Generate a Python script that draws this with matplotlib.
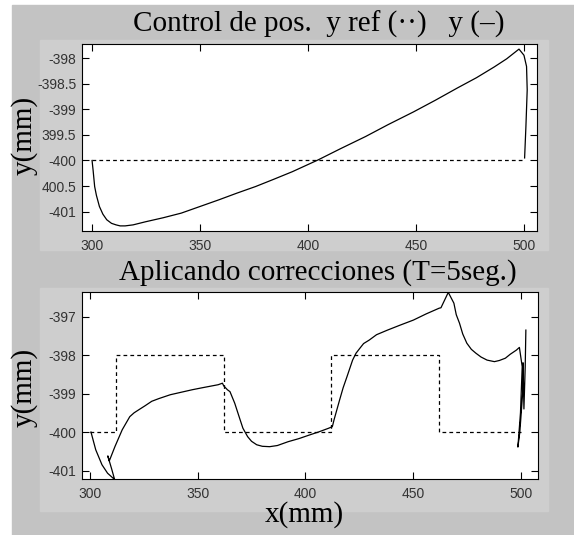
import matplotlib
matplotlib.use('Agg')
import matplotlib.pyplot as plt
from matplotlib.patches import Rectangle

# top plot: position control, reference y = -400
top_x = [300, 300.5, 301.2, 302.0, 303.4, 305.0, 306.8, 309.0, 311.1, 313.0, 315.3, 319.0,
         324.7, 333.0, 341.3, 350.0, 358.7, 367.0, 375.7, 384.0, 392.7, 404.6, 415.0,
         426.7, 437.0, 448.8, 459.0, 469.2, 478.0, 486.2, 492.0, 497.7, 500.0, 501.2,
         501.5, 500.9, 500.3]
top_y = [-400.0, -400.2, -400.51, -400.68, -400.90, -401.05, -401.16, -401.23, -401.26,
         -401.28, -401.28, -401.26, -401.20, -401.12, -401.03, -400.90, -400.77, -400.64,
         -400.51, -400.37, -400.22, -399.99, -399.77, -399.53, -399.30, -399.05, -398.82,
         -398.58, -398.38, -398.17, -398.01, -397.82, -397.94, -398.16, -398.62, -399.34,
         -399.95]
top_ref_x = [300, 500]
top_ref_y = [-400, -400]
top_yticks = [-398, -398.5, -399, -399.5, -400, -400.5, -401]
top_ylabels = ['-398', '-398.5', '-399', '399.5', '-400', '400.5', '-401']

# bottom plot: with corrections (T=5seg.)
bot_x = [300.5, 302.7, 305.6, 308.2, 310.8, 311.6, 310.1, 308.3, 309.0, 311.6, 315.0,
         318.5, 320.5, 322.7, 325.5, 328.7, 332.0, 337.3, 342.0, 347.5, 352.0, 359.5,
         361.5, 362.1, 363.8, 365.0, 367.2, 369.7, 371.0, 373.2, 375.0, 377.4, 380.0,
         383.4, 387.0, 392.0, 397.0, 402.2, 406.0, 410.8, 412.5, 413.3, 415.9, 417.5,
         419.3, 421.9, 423.5, 425.3, 427.0, 429.6, 433.0, 438.1, 444.0, 450.1, 456.0,
         462.1, 462.9, 466.3, 468.9, 470.0, 471.5, 473.0, 474.9, 477.0, 479.1, 481.5,
         484.3, 487.7, 490.0, 492.8, 495.0, 497.9, 499.3, 500.6, 499.8, 498.6, 499.5,
         500.8, 501.0, 501.4, 502.0, 502.3]
bot_y = [-400.0, -400.46, -400.85, -401.07, -401.20, -401.26, -400.96, -400.62, -400.75,
         -400.38, -399.94, -399.60, -399.50, -399.42, -399.32, -399.20, -399.13, -399.03,
         -398.97, -398.90, -398.85, -398.77, -398.73, -398.80, -398.90, -398.95, -399.25,
         -399.68, -399.90, -400.12, -400.24, -400.33, -400.37, -400.38, -400.35, -400.25,
         -400.17, -400.07, -400.00, -399.90, -399.86, -399.68, -399.16, -398.85, -398.56,
         -398.13, -397.95, -397.82, -397.70, -397.61, -397.47, -397.35, -397.22, -397.09,
         -396.93, -396.78, -396.77, -396.37, -396.65, -396.95, -397.17, -397.45, -397.69,
         -397.85, -397.95, -398.05, -398.13, -398.17, -398.14, -398.08, -397.98, -397.87,
         -397.80, -398.3, -399.5, -400.39, -400.0, -399.0, -398.2, -399.4, -398.3, -397.35]
ref_edges = [300, 312, 362, 412, 462, 500]
ref_vals = [-400, -398, -400, -398, -400]
bot_yticks = [-397, -398, -399, -400, -401]
bot_ylabels = ['-397', '-398', '-399', '-400', '-401']

xticks = [300, 350, 400, 450, 500]

W, H = 574, 535
fig = plt.figure(figsize=(W / 100, H / 100), dpi=100)
fig.patch.set_facecolor('white')


def px_rect(x0, y0, x1, y1, color):
    fig.patches.append(Rectangle((x0 / W, 1 - y1 / H), (x1 - x0) / W, (y1 - y0) / H,
                                 transform=fig.transFigure, color=color, zorder=-2))


px_rect(12, 5, 574, 535, '#c3c3c3')
px_rect(40, 40, 548, 250, '#cecece')
px_rect(40, 288, 548, 511, '#cecece')

ax1 = fig.add_axes([81.7 / W, 1 - 231 / H, 455 / W, 187 / H])
ax2 = fig.add_axes([81.5 / W, 1 - 479 / H, 456 / W, 187 / H])

dash = (0, (3, 2.5))
ax1.plot(top_ref_x, top_ref_y, color='black', lw=0.9, linestyle=dash)
ax1.plot(top_x, top_y, color='black', lw=0.9)
ax1.set_xlim(295.2, 505.9)
ax1.set_ylim(-401.38, -397.72)
ax1.set_yticks(top_yticks)
ax1.set_yticklabels(top_ylabels)

ax2.stairs(ref_vals, ref_edges, baseline=None, color='black', lw=0.9, linestyle=dash)
ax2.plot(bot_x, bot_y, color='black', lw=0.9)
ax2.set_xlim(296.1, 507.7)
ax2.set_ylim(-401.22, -396.36)
ax2.set_yticks(bot_yticks)
ax2.set_yticklabels(bot_ylabels)

for ax in (ax1, ax2):
    ax.set_zorder(2)
    ax.set_facecolor('white')
    ax.set_xticks(xticks)
    ax.set_xticklabels([str(t) for t in xticks])
    ax.tick_params(direction='in', top=True, right=True, length=5, width=0.8,
                   labelsize=10, labelcolor='#333333', pad=4)
    ax.tick_params(axis='x', pad=6)
    for lab in ax.get_xticklabels() + ax.get_yticklabels():
        lab.set_family('Liberation Sans')
    for s in ax.spines.values():
        s.set_linewidth(0.8)

serif = dict(family='Liberation Serif', fontsize=21, color='black')
fig.text(319 / W, 1 - 32 / H, 'Control de pos.  y ref (··)   y (–)',
         ha='center', va='baseline', **serif)
fig.text(318 / W, 1 - 280 / H, 'Aplicando correcciones (T=5seg.)',
         ha='center', va='baseline', **serif)
fig.text(304 / W, 1 - 522 / H, 'x(mm)', ha='center', va='baseline', **serif)
fig.text(24 / W, 1 - 135 / H, 'y(mm)', ha='center', va='center', rotation=90, **serif)
fig.text(24 / W, 1 - 387 / H, 'y(mm)', ha='center', va='center', rotation=90, **serif)

fig.savefig('out.png', dpi=100, facecolor='white')
